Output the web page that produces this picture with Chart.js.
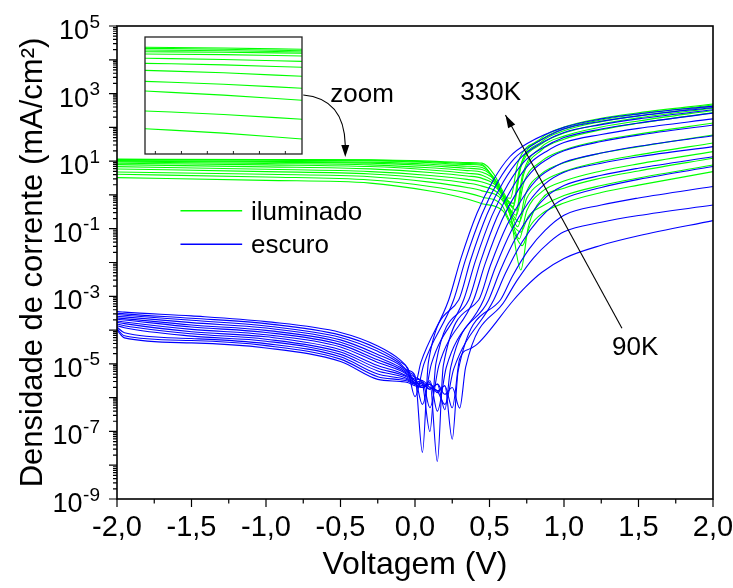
<!DOCTYPE html>
<html><head><meta charset="utf-8">
<script src="https://cdn.jsdelivr.net/npm/chart.js@4.4.1/dist/chart.umd.min.js"></script>
<style>
html,body{margin:0;padding:0;background:#fff;}
#wrap{position:relative;width:733px;height:588px;overflow:hidden;}
#main{position:absolute;left:0;top:0;}
#inset{position:absolute;}
</style></head><body>
<div id="wrap"><canvas id="main" width="733" height="588"></canvas><canvas id="inset" width="160" height="120"></canvas></div>
<script>
// ---- data: [voltage (V), log10 of current density (mA/cm²)] ----
const temperatures = ['330K','310K','290K','270K','250K','230K','210K','190K','170K','150K','130K','110K','90K'];

// dark (escuro)
const dark330K = [[-2,-3.45],[-1.95,-3.47],[-1.5,-3.58],[-1,-3.75],[-0.5,-4.07],[-0.25,-4.47],[-0.1,-4.88],[-0.05,-5.12],[0,-5.6],[0.04,-4.95],[0.226,-3.11],[0.305,-1.92],[0.416,-0.54],[0.526,0.44],[0.636,1.13],[0.756,1.53],[1,2.0],[1.25,2.25],[1.5,2.4],[2,2.63]];
const dark310K = [[-2,-3.5],[-1.95,-3.52],[-1.5,-3.65],[-1,-3.81],[-0.5,-4.15],[-0.25,-4.55],[-0.1,-4.94],[-0.05,-5.15],[0,-5.97],[0.06,-5.0],[0.259,-3.11],[0.338,-1.93],[0.449,-0.57],[0.559,0.41],[0.669,1.09],[0.789,1.48],[1,1.95],[1.25,2.18],[1.5,2.34],[2,2.59]];
const dark290K = [[-2,-3.54],[-1.95,-3.56],[-1.5,-3.71],[-1,-3.88],[-0.5,-4.22],[-0.25,-4.63],[-0.1,-4.99],[-0.05,-5.19],[0,-5.35],[0.05,-7.62],[0.09,-4.95],[0.293,-3.11],[0.372,-1.94],[0.483,-0.58],[0.593,0.39],[0.703,1.07],[0.823,1.47],[1,1.85],[1.25,2.08],[1.5,2.25],[2,2.52]];
const dark270K = [[-2,-3.59],[-1.95,-3.61],[-1.5,-3.78],[-1,-3.94],[-0.5,-4.29],[-0.25,-4.72],[-0.1,-5.04],[-0.05,-5.23],[0,-5.4],[0.05,-6.2],[0.11,-5.0],[0.326,-3.11],[0.405,-1.96],[0.516,-0.62],[0.626,0.33],[0.736,1.0],[0.856,1.39],[1,1.7],[1.25,1.95],[1.5,2.13],[2,2.42]];
const dark250K = [[-2,-3.64],[-1.95,-3.66],[-1.5,-3.85],[-1,-4.01],[-0.5,-4.36],[-0.25,-4.8],[-0.1,-5.1],[-0.05,-5.26],[0,-5.4],[0.05,-5.6],[0.1,-7.0],[0.14,-5.0],[0.36,-3.11],[0.439,-1.98],[0.55,-0.66],[0.66,0.27],[0.77,0.93],[0.89,1.31],[1,1.55],[1.25,1.79],[1.5,1.97],[2,2.25]];
const dark230K = [[-2,-3.68],[-1.95,-3.7],[-1.5,-3.91],[-1,-4.07],[-0.5,-4.43],[-0.25,-4.88],[-0.1,-5.15],[-0.05,-5.3],[0,-5.45],[0.05,-5.5],[0.1,-6.3],[0.16,-5.05],[0.393,-3.11],[0.472,-2.02],[0.583,-0.75],[0.693,0.15],[0.803,0.78],[0.923,1.15],[1,1.31],[1.25,1.58],[1.5,1.77],[2,2.07]];
const dark210K = [[-2,-3.73],[-1.95,-3.76],[-1.5,-3.98],[-1,-4.14],[-0.5,-4.5],[-0.25,-4.96],[-0.1,-5.2],[-0.05,-5.33],[0,-5.5],[0.05,-5.65],[0.1,-5.55],[0.15,-7.89],[0.19,-5.05],[0.427,-3.11],[0.506,-2.09],[0.617,-0.9],[0.727,-0.06],[0.837,0.54],[0.957,0.88],[1,0.97],[1.25,1.24],[1.5,1.44],[2,1.75]];
const dark190K = [[-2,-3.77],[-1.95,-3.81],[-1.5,-4.05],[-1,-4.2],[-0.5,-4.58],[-0.25,-5.05],[-0.1,-5.26],[-0.05,-5.37],[0,-5.5],[0.05,-5.7],[0.1,-5.5],[0.15,-6.4],[0.21,-5.1],[0.46,-3.11],[0.539,-2.15],[0.65,-1.03],[0.76,-0.23],[0.87,0.32],[1,0.67],[1.25,0.94],[1.5,1.13],[2,1.43]];
const dark170K = [[-2,-3.82],[-1.95,-3.87],[-1.5,-4.11],[-1,-4.27],[-0.5,-4.65],[-0.25,-5.13],[-0.1,-5.31],[-0.05,-5.4],[0,-5.55],[0.05,-5.6],[0.1,-5.75],[0.15,-5.6],[0.2,-6.36],[0.24,-5.1],[0.494,-3.11],[0.573,-2.23],[0.684,-1.21],[0.794,-0.48],[0.904,0.03],[1,0.28],[1.25,0.58],[1.5,0.79],[2,1.13]];
const dark150K = [[-2,-3.87],[-1.95,-3.93],[-1.5,-4.18],[-1,-4.33],[-0.5,-4.72],[-0.25,-5.21],[-0.1,-5.36],[-0.05,-5.44],[0,-5.55],[0.05,-5.5],[0.1,-5.7],[0.15,-5.8],[0.2,-6.2],[0.26,-5.15],[0.528,-3.11],[0.607,-2.32],[0.718,-1.4],[0.828,-0.74],[0.938,-0.28],[1,-0.11],[1.25,0.22],[1.5,0.46],[2,0.84]];
const dark130K = [[-2,-3.91],[-1.95,-4.08],[-1.5,-4.25],[-1,-4.4],[-0.5,-4.79],[-0.25,-5.3],[-0.1,-5.42],[-0.05,-5.47],[0,-5.6],[0.05,-5.7],[0.1,-5.6],[0.15,-5.85],[0.2,-5.65],[0.25,-7.23],[0.29,-5.2],[0.573,-3.11],[0.652,-2.42],[0.763,-1.62],[0.873,-1.05],[1,-0.6],[1.25,-0.3],[1.5,-0.09],[2,0.25]];
const dark110K = [[-2,-3.96],[-1.95,-4.17],[-1.5,-4.31],[-1,-4.46],[-0.5,-4.86],[-0.25,-5.38],[-0.1,-5.47],[-0.05,-5.51],[0,-5.6],[0.05,-5.55],[0.1,-5.75],[0.15,-5.6],[0.2,-5.9],[0.25,-5.7],[0.3,-6.31],[0.34,-5.1],[0.606,-3.11],[0.685,-2.53],[0.796,-1.86],[0.906,-1.38],[1,-1.09],[1.25,-0.81],[1.5,-0.61],[2,-0.3]];
const dark90K = [[-2,-4.0],[-1.95,-4.23],[-1.5,-4.38],[-1,-4.53],[-0.5,-4.93],[-0.25,-5.46],[-0.1,-5.52],[-0.05,-5.55],[0,-5.65],[0.05,-5.7],[0.1,-5.6],[0.15,-5.8],[0.2,-5.65],[0.25,-6.3],[0.3,-4.85],[0.37,-4.55],[0.42,-4.41],[0.662,-3.11],[0.741,-2.73],[0.852,-2.29],[1,-1.88],[1.25,-1.49],[1.5,-1.21],[2,-0.76]];

// illuminated (iluminado)
const light330K = [[-2,1.06],[-1,1.05],[-0.3,1.04],[0.1,1.0],[0.35,0.96],[0.45,0.94],[0.53,0.61],[0.59,0.11],[0.66,-0.35],[0.71,0.87],[0.85,1.69],[1,2.01],[1.25,2.27],[1.5,2.43],[2,2.69]];
const light310K = [[-2,1.05],[-1,1.04],[-0.3,1.03],[0.1,0.98],[0.35,0.93],[0.45,0.9],[0.51,0.58],[0.57,0.08],[0.64,-0.1],[0.69,0.94],[0.85,1.64],[1,1.96],[1.25,2.22],[1.5,2.39],[2,2.66]];
const light290K = [[-2,1.04],[-1,1.025],[-0.3,1.01],[0.1,0.955],[0.35,0.9],[0.45,0.87],[0.52,0.55],[0.58,0.05],[0.65,-0.5],[0.7,0.75],[0.85,1.58],[1,1.9],[1.25,2.17],[1.5,2.34],[2,2.62]];
const light270K = [[-2,1.015],[-1,0.99],[-0.3,0.97],[0.1,0.91],[0.35,0.85],[0.45,0.81],[0.53,0.5],[0.59,0.0],[0.66,-0.25],[0.71,0.81],[0.85,1.51],[1,1.83],[1.25,2.1],[1.5,2.28],[2,2.57]];
const light250K = [[-2,1.0],[-1,0.97],[-0.3,0.94],[0.1,0.865],[0.35,0.79],[0.45,0.75],[0.54,0.44],[0.6,-0.06],[0.67,-0.74],[0.72,0.56],[0.85,1.42],[1,1.74],[1.25,2.01],[1.5,2.19],[2,2.5]];
const light230K = [[-2,0.976],[-1,0.93],[-0.3,0.89],[0.1,0.805],[0.35,0.72],[0.45,0.67],[0.55,0.37],[0.61,-0.13],[0.68,-0.45],[0.73,0.62],[0.85,1.33],[1,1.65],[1.25,1.93],[1.5,2.12],[2,2.435]];
const light210K = [[-2,0.938],[-1,0.89],[-0.3,0.84],[0.1,0.74],[0.35,0.64],[0.45,0.58],[0.55,0.29],[0.61,-0.21],[0.68,-0.6],[0.73,0.36],[0.85,1.0],[1,1.33],[1.25,1.61],[1.5,1.8],[2,2.13]];
const light190K = [[-2,0.896],[-1,0.83],[-0.3,0.77],[0.1,0.665],[0.35,0.56],[0.45,0.49],[0.56,0.21],[0.62,-0.29],[0.69,-0.94],[0.74,0.0],[0.85,0.63],[1,0.95],[1.25,1.24],[1.5,1.43],[2,1.775]];
const light170K = [[-2,0.837],[-1,0.76],[-0.3,0.69],[0.1,0.575],[0.35,0.46],[0.45,0.38],[0.57,0.11],[0.63,-0.39],[0.7,-0.8],[0.75,-0.1],[0.85,0.37],[1,0.69],[1.25,0.985],[1.5,1.185],[2,1.538]];
const light150K = [[-2,0.769],[-1,0.69],[-0.3,0.62],[0.1,0.485],[0.35,0.35],[0.45,0.26],[0.57,0.0],[0.63,-0.5],[0.7,-1.3],[0.75,-0.47],[0.85,0.09],[1,0.41],[1.25,0.71],[1.5,0.92],[2,1.281]];
const light130K = [[-2,0.68],[-1,0.61],[-0.3,0.54],[0.1,0.38],[0.35,0.22],[0.45,0.12],[0.58,-0.13],[0.64,-0.63],[0.71,-2.22],[0.76,-0.96],[0.85,-0.12],[1,0.2],[1.25,0.5],[1.5,0.71],[2,1.086]];
const light110K = [[-2,0.612],[-1,0.53],[-0.3,0.44],[0.1,0.25],[0.35,0.06],[0.45,-0.06],[0.58,-0.29],[0.64,-0.79],[0.71,-1.1],[0.76,-0.64],[0.85,-0.34],[1,-0.02],[1.25,0.28],[1.5,0.5],[2,0.887]];
const light90K = [[-2,0.512],[-1,0.43],[-0.3,0.35],[0.1,0.115],[0.35,-0.12],[0.45,-0.26],[0.59,-0.47],[0.65,-0.97],[0.72,-1.5],[0.77,-0.94],[0.85,-0.56],[1,-0.24],[1.25,0.07],[1.5,0.29],[2,0.689]];

// inset (zoom of the illuminated curves): position across window 0..1, height in % of window
const insetPos = [0, 0.5, 1];
const insetLines = [
  [91.2, 90.6, 89.5], [90.3, 89.5, 88.3], [88.9, 88.3, 87.2], [87.4, 87.0, 86.1],
  [85.5, 84.9, 83.8], [81.8, 80.8, 79.2], [77.5, 76.2, 74.1], [71.5, 69.4, 66.4],
  [62.1, 59.6, 56.2], [53.8, 50.3, 45.9], [36.8, 33.8, 29.7], [21.6, 17.8, 12.8]
];
const insetTicks = [0.066, 0.232, 0.397, 0.563, 0.729, 0.894];

// axis ticks
const xTickStep = 0.5;
const xMinorStep = 0.25;
const yLabelExponents = [5, 3, 1, -1, -3, -5, -7, -9];

const darkSeries = [dark330K, dark310K, dark290K, dark270K, dark250K, dark230K, dark210K, dark190K, dark170K, dark150K, dark130K, dark110K, dark90K];
const lightSeries = [light330K, light310K, light290K, light270K, light250K, light230K, light210K, light190K, light170K, light150K, light130K, light110K, light90K];

const GREEN = '#00ff00', BLUE = '#0000ff';
const FONT = "'Liberation Sans', Arial, sans-serif";

function toPts(arr) { return arr.map(([v, l]) => ({ x: v, y: Math.pow(10, l) })); }
function ds(arr, color, label) {
  return { label, data: toPts(arr), borderColor: color, borderWidth: 1.1, pointRadius: 0,
           fill: false, cubicInterpolationMode: 'monotone', tension: 0.4 };
}
const datasets = [];
darkSeries.forEach((s, i) => datasets.push(ds(s, BLUE, 'escuro ' + temperatures[i])));
lightSeries.forEach((s, i) => datasets.push(ds(s, GREEN, 'iluminado ' + temperatures[i])));

function arrowHead(ctx, x1, y1, x2, y2, len, w) {
  const a = Math.atan2(y2 - y1, x2 - x1);
  const bx = x2 - len * Math.cos(a), by = y2 - len * Math.sin(a);
  ctx.beginPath();
  ctx.moveTo(x2, y2);
  ctx.lineTo(bx + w * Math.sin(a), by - w * Math.cos(a));
  ctx.lineTo(bx - w * Math.sin(a), by + w * Math.cos(a));
  ctx.closePath();
  ctx.fill();
}

const decor = {
  id: 'decor',
  afterDraw(chart) {
    const { ctx, chartArea: a, scales: { x, y } } = chart;
    const P = (v, l) => [x.getPixelForValue(v), y.getPixelForValue(Math.pow(10, l))];
    ctx.save();
    ctx.strokeStyle = '#000';
    ctx.lineWidth = 1.6;
    ctx.strokeRect(a.left, a.top, a.right - a.left, a.bottom - a.top);
    ctx.lineWidth = 1.2;
    ctx.beginPath();
    for (let v = x.min; v <= x.max + 1e-9; v += xMinorStep) {
      const px = x.getPixelForValue(v);
      const major = Math.abs(v / xTickStep - Math.round(v / xTickStep)) < 1e-6;
      ctx.moveTo(px, a.bottom); ctx.lineTo(px, a.bottom + (major ? 8 : 4.5));
    }
    const eMin = Math.round(Math.log10(y.min)), eMax = Math.round(Math.log10(y.max));
    for (let e = eMin; e <= eMax; e++) {
      let py = y.getPixelForValue(Math.pow(10, e));
      ctx.moveTo(a.left, py); ctx.lineTo(a.left - 8, py);
      if (e < eMax) for (let m = 2; m <= 9; m++) {
        py = y.getPixelForValue(m * Math.pow(10, e));
        ctx.moveTo(a.left, py); ctx.lineTo(a.left - 4, py);
      }
    }
    ctx.stroke();
    // y tick labels 10^n
    ctx.fillStyle = '#000';
    ctx.textBaseline = 'alphabetic';
    const right = a.left - 17;
    yLabelExponents.forEach(e => {
      const py = y.getPixelForValue(Math.pow(10, e));
      const sup = (e < 0 ? '-' : '') + Math.abs(e);
      ctx.font = '19px ' + FONT;
      const we = ctx.measureText(sup).width;
      ctx.textAlign = 'left';
      ctx.fillText(sup, right - we, py + 1.5);
      ctx.font = '27px ' + FONT;
      ctx.textAlign = 'right';
      ctx.fillText('10', right - we - 0.5, py + 13);
    });
    // legend
    ctx.font = '26px ' + FONT;
    ctx.textAlign = 'left';
    [['iluminado', GREEN, -0.465, -0.74], ['escuro', BLUE, -1.459, -1.716]].forEach(([t, c, ll, tl]) => {
      const [x1, y1] = P(-1.574, ll), [x2] = P(-1.16, ll);
      ctx.strokeStyle = c; ctx.lineWidth = 1.5;
      ctx.beginPath(); ctx.moveTo(x1, y1); ctx.lineTo(x2, y1); ctx.stroke();
      const [tx, ty] = P(-1.101, tl);
      ctx.fillText(t, tx, ty);
    });
    // annotations
    ctx.strokeStyle = '#000'; ctx.lineWidth = 1.1;
    let [tx, ty] = P(-0.568, 2.751); ctx.fillText('zoom', tx, ty);
    [tx, ty] = P(0.304, 2.81); ctx.fillText('330K', tx, ty);
    [tx, ty] = P(1.322, -4.734); ctx.fillText('90K', tx, ty);
    const [ax1, ay1] = P(1.389, -3.944), [ax2, ay2] = P(0.607, 2.366);
    ctx.beginPath(); ctx.moveTo(ax1, ay1); ctx.lineTo(ax2, ay2); ctx.stroke();
    arrowHead(ctx, ax1, ay1, ax2, ay2, 13, 4);
    const [z0x, z0y] = P(-0.750, 2.958), [zcx, zcy] = P(-0.475, 2.85), [z1x, z1y] = P(-0.468, 1.479), [ztx, zty] = P(-0.468, 1.124);
    ctx.beginPath(); ctx.moveTo(z0x, z0y); ctx.quadraticCurveTo(zcx, zcy, z1x, z1y); ctx.lineTo(ztx, zty - 8); ctx.stroke();
    arrowHead(ctx, ztx, zty - 14, ztx, zty, 12, 4);
    ctx.restore();
  }
};

const mainChart = new Chart(document.getElementById('main'), {
  type: 'line',
  data: { datasets },
  options: {
    responsive: false, animation: false, devicePixelRatio: 1, events: [],
    layout: { padding: { top: 26, right: 20, left: 0, bottom: 0 } },
    plugins: { legend: { display: false }, tooltip: { enabled: false } },
    scales: {
      x: {
        type: 'linear', min: -2, max: 2,
        grid: { display: false, drawTicks: false }, border: { display: false },
        ticks: {
          stepSize: xTickStep, autoSkip: false, maxRotation: 0, padding: 11.5, color: '#000',
          font: { family: FONT, size: 29 },
          callback: v => (v < -1e-9 ? '-' : '') + Math.abs(v).toFixed(1).replace('.', ',')
        },
        title: { display: true, text: 'Voltagem (V)', color: '#000', font: { family: FONT, size: 32 }, padding: { top: 0, bottom: 4 } },
        afterFit: s => { s.height = 89; s.paddingLeft = 0; s.paddingRight = 0; }
      },
      y: {
        type: 'logarithmic', min: 1e-9, max: 1e5,
        grid: { display: false, drawTicks: false }, border: { display: false },
        ticks: { display: false },
        title: { display: true, text: 'Densidade de corrente (mA/cm²)', color: '#000', font: { family: FONT, size: 31 }, padding: { top: 15, bottom: 0 } },
        afterFit: s => { s.width = 117; s.paddingTop = 0; s.paddingBottom = 0; }
      }
    }
  },
  plugins: [decor]
});

// inset placement from the main chart's scales (window in data coords)
const xs = mainChart.scales.x, ys = mainChart.scales.y;
const insetWin = { v0: -1.808, v1: -0.754, l0: 1.213, l1: 4.674 };
const ix0 = xs.getPixelForValue(insetWin.v0), ix1 = xs.getPixelForValue(insetWin.v1);
const iy0 = ys.getPixelForValue(Math.pow(10, insetWin.l1)), iy1 = ys.getPixelForValue(Math.pow(10, insetWin.l0));
const insetCanvas = document.getElementById('inset');
insetCanvas.style.left = (Math.floor(ix0) - 1) + 'px';
insetCanvas.style.top = (Math.floor(iy0) - 1) + 'px';
insetCanvas.width = Math.round(ix1 - ix0) + 3; insetCanvas.height = Math.round(iy1 - iy0) + 3;

const insetFrame = {
  id: 'insetFrame',
  afterDraw(chart) {
    const { ctx, chartArea: a, scales: { x } } = chart;
    ctx.save();
    ctx.strokeStyle = '#222'; ctx.lineWidth = 1.3;
    ctx.strokeRect(a.left, a.top, a.right - a.left, a.bottom - a.top);
    ctx.lineWidth = 1;
    ctx.beginPath();
    insetTicks.forEach(t => { const px = x.getPixelForValue(t); ctx.moveTo(px, a.bottom); ctx.lineTo(px, a.bottom - 3); });
    ctx.stroke();
    ctx.restore();
  }
};

new Chart(insetCanvas, {
  type: 'line',
  data: { datasets: insetLines.map(s => ({ data: insetPos.map((p, i) => ({ x: p, y: s[i] })), borderColor: GREEN, borderWidth: 1.1, pointRadius: 0, tension: 0.4, cubicInterpolationMode: 'monotone' })) },
  options: {
    responsive: false, animation: false, devicePixelRatio: 1, events: [],
    layout: { padding: { left: 1, top: 1, right: 2, bottom: 2 } },
    plugins: { legend: { display: false }, tooltip: { enabled: false } },
    scales: { x: { type: 'linear', min: 0, max: 1, display: false }, y: { min: 0, max: 100, display: false } }
  },
  plugins: [insetFrame]
});
</script></body></html>
